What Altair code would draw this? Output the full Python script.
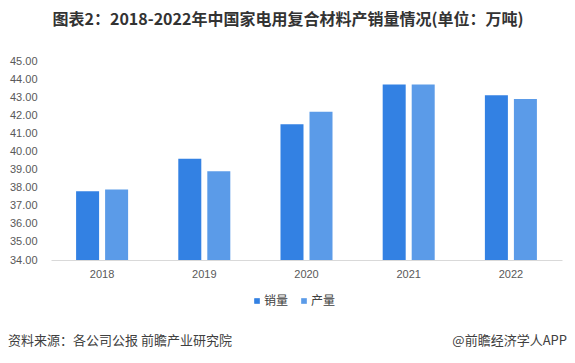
import altair as alt
import pandas as pd

years = ["2018", "2019", "2020", "2021", "2022"]
sales = [37.8, 39.6, 41.5, 43.7, 43.1]
output = [37.9, 38.9, 42.2, 43.7, 42.9]
series = ["销量", "产量"]
colors = ["#3381E3", "#5B9BE8"]
y_ticks = [34, 35, 36, 37, 38, 39, 40, 41, 42, 43, 44, 45]
y_min, y_max = 34, 45
title = "图表2：2018-2022年中国家电用复合材料产销量情况(单位：万吨)"
source = "资料来源：各公司公报 前瞻产业研究院"
credit = "@前瞻经济学人APP"

rows = []
for i, yr in enumerate(years):
    rows.append({"year": yr, "series": series[0], "value": sales[i]})
    rows.append({"year": yr, "series": series[1], "value": output[i]})
df = pd.DataFrame(rows)

FONT = "Liberation Sans, Noto Sans CJK SC, sans-serif"
CJK = "Noto Sans CJK SC, sans-serif"

W, H = 511, 199

bars = alt.Chart(df).mark_bar().encode(
    x=alt.X("year:N", sort=years,
            scale=alt.Scale(paddingInner=0.491, paddingOuter=0.2455),
            axis=alt.Axis(title=None, labelAngle=0, ticks=False, domainColor="#D9D9D9",
                          labelColor="#595959", labelFontSize=11, labelPadding=8,
                          labelFont=FONT)),
    xOffset=alt.XOffset("series:N", sort=series,
                        scale=alt.Scale(paddingInner=0.207, paddingOuter=0)),
    y=alt.Y("value:Q",
            scale=alt.Scale(domain=[y_min, y_max], nice=False, zero=False),
            axis=alt.Axis(title=None, values=y_ticks, format=".2f", grid=False,
                          domain=False, ticks=False, labelPadding=14,
                          labelColor="#595959", labelFontSize=11, labelFont=FONT)),
    y2=alt.datum(y_min),
    color=alt.Color("series:N", sort=series,
                    scale=alt.Scale(domain=series, range=colors),
                    legend=alt.Legend(title=None, orient="none", legendX=200, legendY=234,
                                      direction="horizontal", symbolType="square",
                                      symbolSize=32, symbolStrokeWidth=0,
                                      labelFontSize=12, labelFont=CJK, labelColor="#404040",
                                      columnPadding=9, labelOffset=1)),
)

title_t = alt.Chart(pd.DataFrame({"t": [title]})).mark_text(
    font=CJK, fontSize=16, fontWeight="bold", color="#333333", align="center", baseline="middle"
).encode(text="t:N", x=alt.value(237), y=alt.value(-41))

src_t = alt.Chart(pd.DataFrame({"t": [source]})).mark_text(
    font=CJK, fontSize=13, color="#404040", align="left", baseline="middle"
).encode(text="t:N", x=alt.value(-43), y=alt.value(280))

credit_t = alt.Chart(pd.DataFrame({"t": [credit]})).mark_text(
    font=CJK, fontSize=13, color="#404040", align="right", baseline="middle"
).encode(text="t:N", x=alt.value(516), y=alt.value(280))

chart = alt.layer(bars, title_t, src_t, credit_t).properties(
    width=W, height=H,
    padding={"left": 43, "top": 53, "right": 5, "bottom": 95},
    autosize="none",
).configure_view(stroke=None)

chart.save("out.html", embed_options={"renderer": "svg", "actions": False})
